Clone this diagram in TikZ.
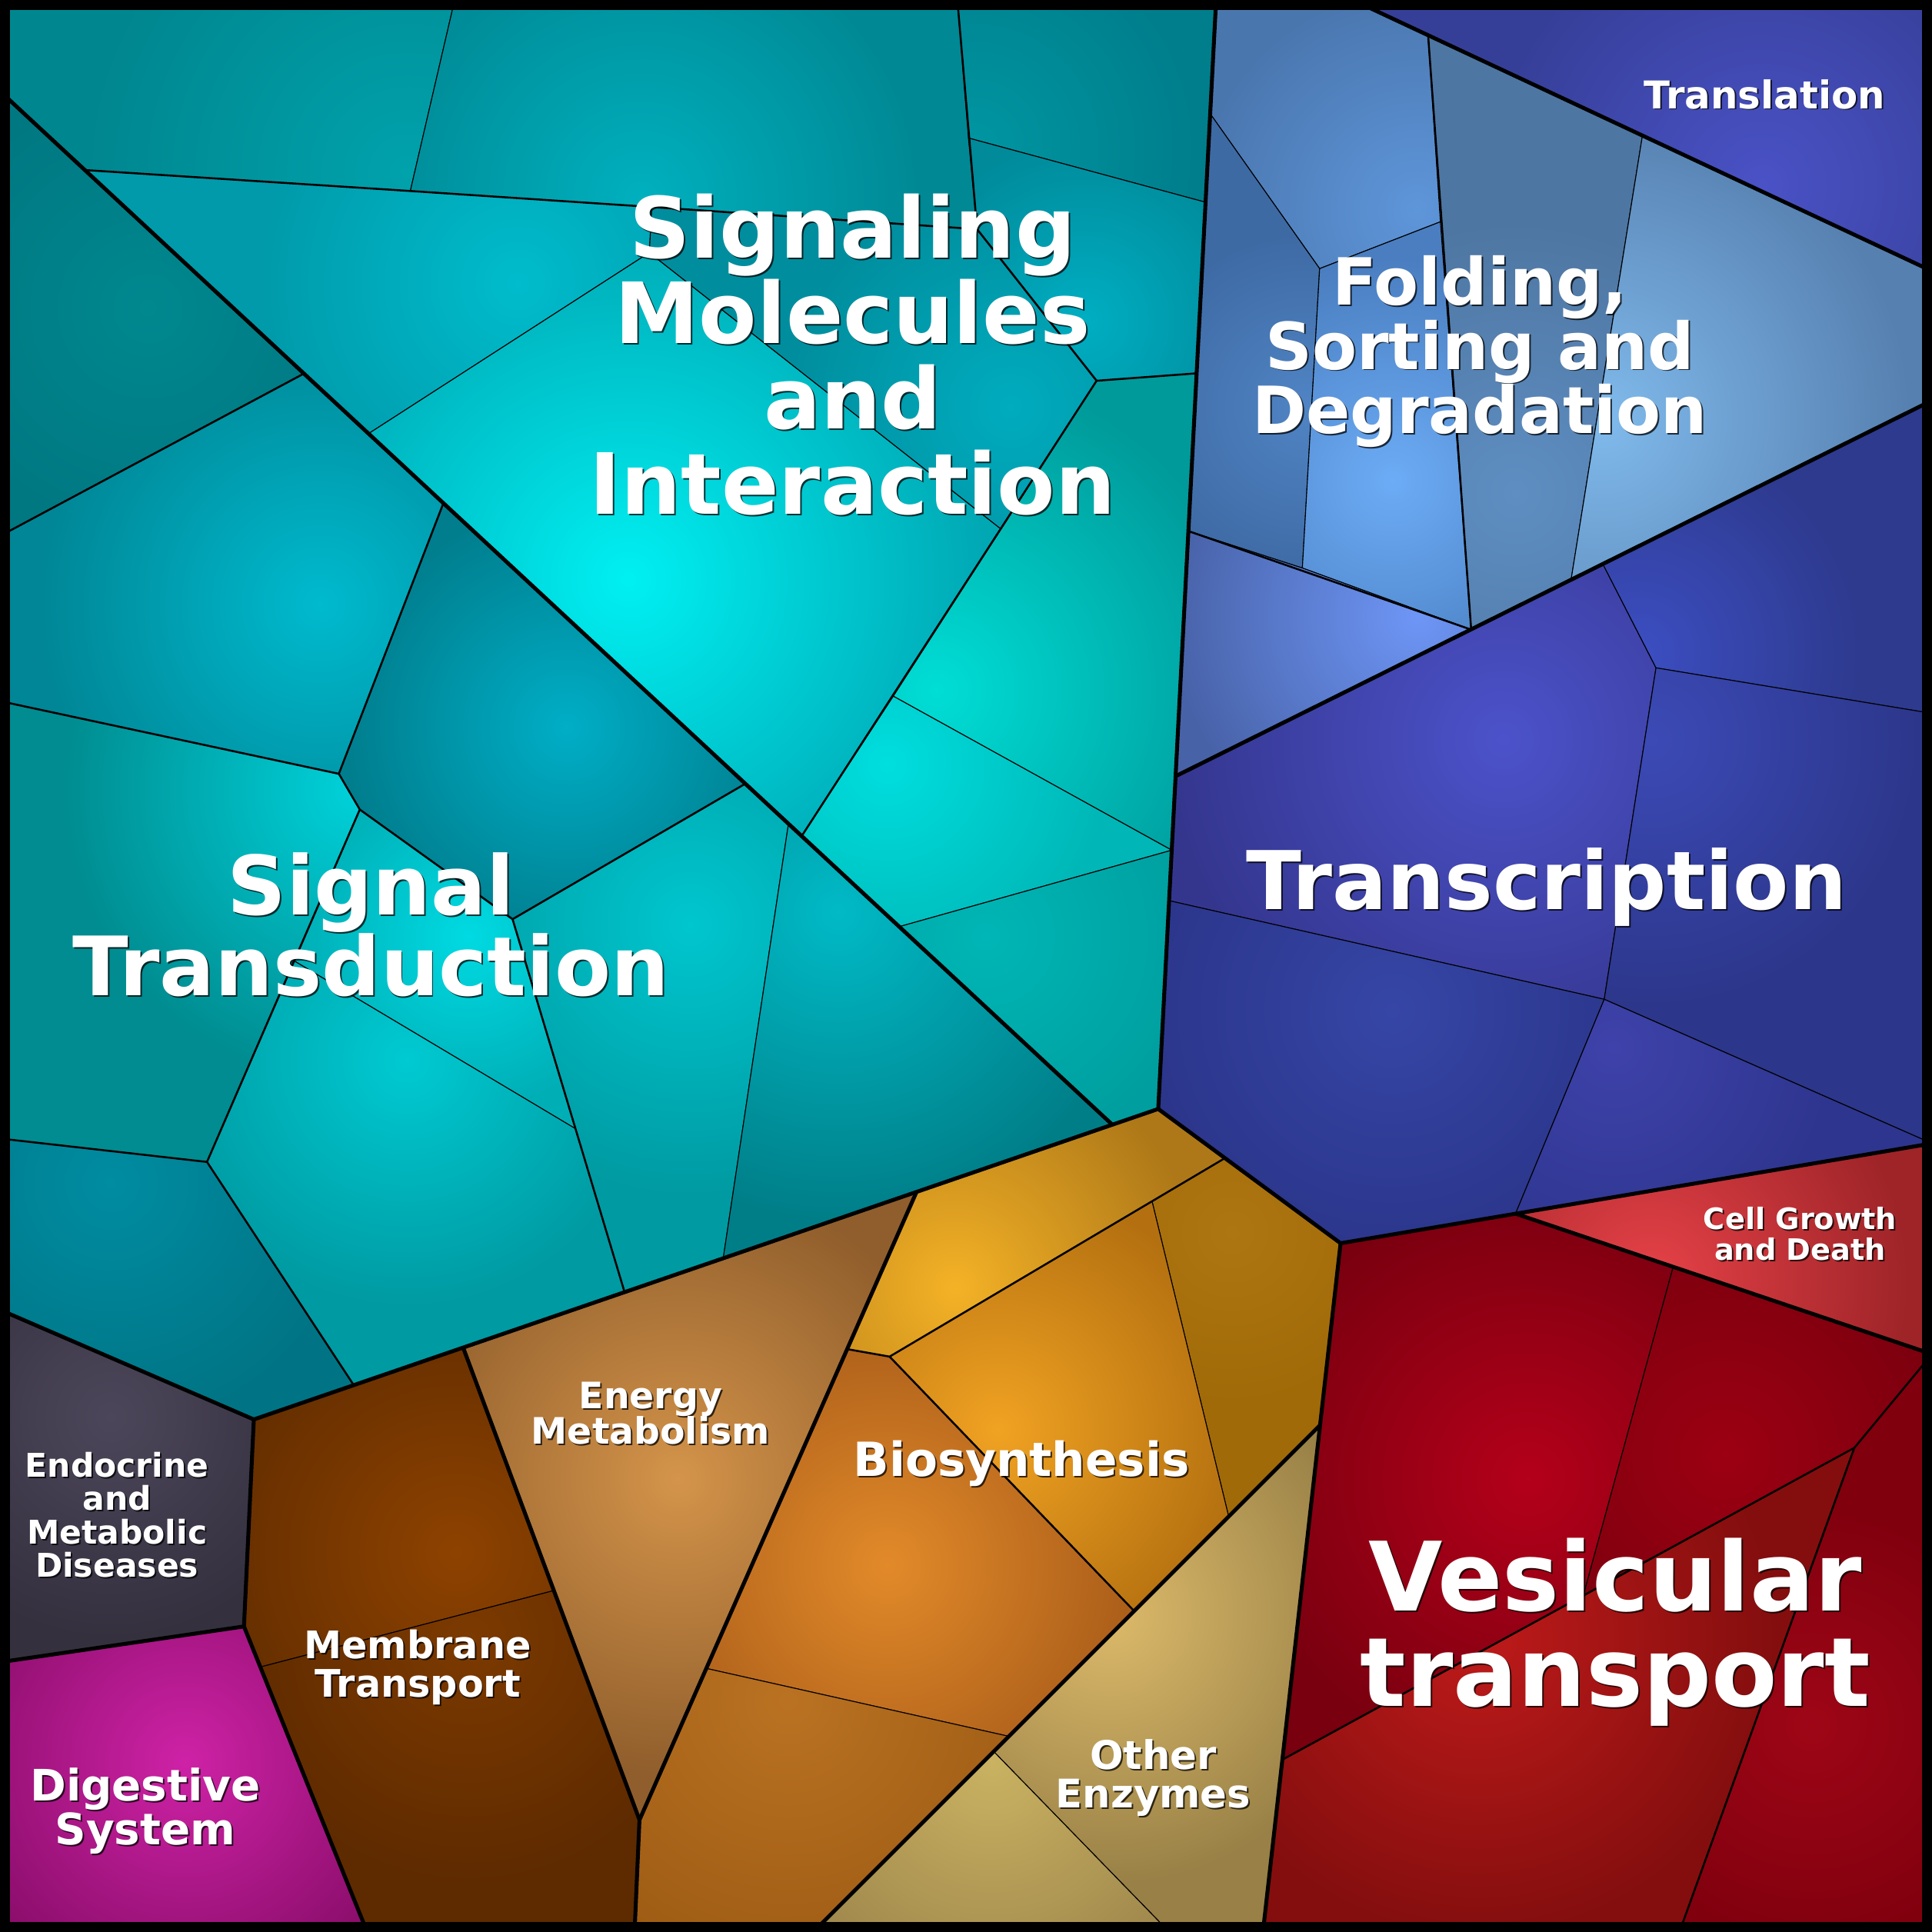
\documentclass[tikz,border=0pt]{standalone}
\usepackage{fontspec}
\setmainfont{DejaVu Sans}
\usepackage{tikz}

% one Voronoi cell: outer colour, inner colour, light centre, radius, outline
\newcommand\keggcell[5]{%
  \begin{scope}
    \definecolor{cellout}{HTML}{#1}\definecolor{cellin}{HTML}{#2}
    \clip #5 -- cycle;
    \fill[cellout] (0,0) rectangle (1568,1568);
    \shade[inner color=cellin, outer color=cellout] (#3) circle ({#4*0.01cm});
  \end{scope}
  \draw[cell edge] #5 -- cycle;}

% white label with a small dark shadow (anchored at the last baseline)
\newcommand\keggtext[5]{%
  \node[label shadow, font=\fontsize{#3}{#4}\selectfont\bfseries] (#1-shadow) at ([shift={(0.35pt,-0.35pt)}]#2) {#5};
  \node[label text, font=\fontsize{#3}{#4}\selectfont\bfseries] (#1) at (#2) {#5};}

\begin{document}
\lineskiplimit=-5pt
\begin{tikzpicture}[x=0.01cm, y=-0.01cm,
  cell edge/.style={line width=0.2pt},
  group edge/.style={line width=0.45pt},
  region edge/.style={line width=0.9pt, line join=round},
  label text/.style={text=white, align=center, anchor=base, inner sep=0pt},
  label shadow/.style={text=black, opacity=0.75, align=center, anchor=base, inner sep=0pt}]

\useasboundingbox (0,0) rectangle (1568,1568);

% Signaling Molecules and Interaction
\keggcell{00868F}{00A2AC}{330,140}{260}{(0,0) -- (369,0) -- (333,155) -- (69,138) -- (0,74)}
\keggcell{008894}{00B0BE}{520,160}{230}{(369,0) -- (777,0) -- (793,186) -- (529,168) -- (333,155)}
\keggcell{007E8C}{0096A2}{790,120}{180}{(777,0) -- (987,0) -- (978,164) -- (786,112)}
\keggcell{008A9A}{00AEC2}{880,260}{150}{(786,112) -- (978,164) -- (971,303) -- (890,309) -- (793,186)}
\keggcell{009AAA}{00BCCC}{420,230}{210}{(69,138) -- (333,155) -- (529,168) -- (527,205) -- (299,352)}
\keggcell{00A8B4}{00F0F2}{510,470}{290}{(299,352) -- (527,205) -- (812,429) -- (651,678)}
\keggcell{008E9E}{00ACBE}{820,330}{180}{(527,205) -- (529,168) -- (793,186) -- (890,309) -- (812,429)}
\keggcell{009A9A}{00DED6}{760,560}{260}{(890,309) -- (971,303) -- (951,690) -- (725,565)}
\keggcell{00B6B6}{00DEDE}{720,620}{180}{(725,565) -- (951,690) -- (730,752) -- (651,678)}
\keggcell{009E9E}{00B6B6}{800,760}{180}{(730,752) -- (951,690) -- (940,900) -- (903,913)}

% Signal Transduction
\keggcell{007882}{00888F}{120,250}{180}{(0,74) -- (247,303) -- (0,435)}
\keggcell{008696}{00BACE}{260,490}{230}{(0,435) -- (247,303) -- (360,408) -- (275,628) -- (0,569)}
\keggcell{007E8E}{00AEC6}{460,590}{180}{(360,408) -- (605,636) -- (416,746) -- (292,657) -- (275,628)}
\keggcell{008C90}{00D2DA}{290,640}{240}{(0,569) -- (275,628) -- (292,657) -- (168,943) -- (0,924)}
\keggcell{00AEB6}{00DAE2}{380,760}{140}{(292,657) -- (416,746) -- (467,916) -- (239,780)}
\keggcell{009AA2}{00CAD2}{330,860}{200}{(239,780) -- (467,916) -- (507,1049) -- (287,1124) -- (168,943)}
\keggcell{009AA2}{00C6CE}{560,750}{220}{(416,746) -- (605,636) -- (640,668) -- (587,1021) -- (507,1049)}
\keggcell{007E88}{00BAC6}{680,740}{250}{(640,668) -- (903,913) -- (587,1021)}
\keggcell{007484}{008CA2}{90,960}{200}{(0,924) -- (168,943) -- (287,1124) -- (206,1152) -- (0,1063)}

% Folding, Sorting and Degradation / Translation
\keggcell{4A76AE}{5E96DA}{1150,170}{180}{(987,0) -- (1098,0) -- (1159,28) -- (1169,180) -- (1071,218) -- (982,92)}
\keggcell{3E6AA4}{5084C4}{1060,330}{140}{(982,92) -- (1071,218) -- (1057,461) -- (964.5,431)}
\keggcell{4A7EC0}{6CACF6}{1130,390}{180}{(1071,218) -- (1169,180) -- (1194,511) -- (1057,461)}
\keggcell{4E76A2}{5E8EC2}{1230,400}{220}{(1159,28) -- (1333,110) -- (1275,471) -- (1194,511)}
\keggcell{5680B0}{80BAEC}{1300,340}{250}{(1333,110) -- (1568,220) -- (1568,325) -- (1275,471)}
\keggcell{4862A8}{6E96F6}{1150,500}{200}{(964.5,431) -- (1057,461) -- (1194,511) -- (954,630)}
\keggcell{363F98}{4A52C6}{1430,150}{220}{(1098,0) -- (1568,0) -- (1568,220)}

% Transcription
\keggcell{34368E}{4C52CA}{1220,600}{270}{(954,630) -- (1194,511) -- (1301,458) -- (1344,542) -- (1302,811) -- (949,731)}
\keggcell{2E3A8E}{3C4EC2}{1330,530}{180}{(1301,458) -- (1568,325) -- (1568,579) -- (1344,542)}
\keggcell{2C368A}{3C4AB6}{1340,600}{220}{(1344,542) -- (1568,579) -- (1568,928) -- (1302,811)}
\keggcell{2A3488}{3646A6}{1130,820}{220}{(949,731) -- (1302,811) -- (1230,985) -- (1088,1009) -- (940,900)}
\keggcell{2E358E}{3E42AA}{1310,850}{180}{(1302,811) -- (1568,928) -- (1230,985)}

% Cell Growth and Death / Vesicular transport
\keggcell{9E2428}{E64248}{1340,1040}{210}{(1230,985) -- (1568,928) -- (1568,1099)}
\keggcell{78000F}{B4001A}{1240,1200}{240}{(1088,1009) -- (1230,985) -- (1358,1028) -- (1285,1295) -- (1041,1428)}
\keggcell{7C000E}{9C0012}{1400,1180}{180}{(1358,1028) -- (1568,1099) -- (1505,1175) -- (1285,1295)}
\keggcell{840E0E}{BE1A1A}{1200,1330}{240}{(1041,1428) -- (1285,1295) -- (1505,1175) -- (1363,1568) -- (1025,1568)}
\keggcell{80000E}{9E0616}{1470,1400}{180}{(1505,1175) -- (1568,1099) -- (1568,1568) -- (1363,1568)}

% Biosynthesis / Other Enzymes
\keggcell{AE7818}{F4B226}{775,1045}{200}{(744,967) -- (940,900) -- (994,940) -- (722,1101) -- (688,1095)}
\keggcell{A06A08}{AE7612}{1000,1000}{140}{(994,940) -- (1088,1009) -- (1071,1157) -- (997,1230) -- (935,975)}
\keggcell{B47010}{F0A222}{810,1160}{200}{(722,1101) -- (935,975) -- (997,1230) -- (920,1307)}
\keggcell{A65A18}{E28A2A}{720,1270}{220}{(688,1095) -- (722,1101) -- (920,1307) -- (818,1409) -- (573,1354)}
\keggcell{9E5C14}{BA7222}{640,1380}{220}{(573,1354) -- (818,1409) -- (660,1568) -- (515,1568) -- (519,1477)}
\keggcell{988046}{DCBA6A}{900,1310}{220}{(1071,1157) -- (1025,1568) -- (949,1568) -- (806,1421)}
\keggcell{A28A4E}{CAB262}{805,1430}{180}{(806,1421) -- (949,1568) -- (660,1568)}

% Energy Metabolism / Membrane Transport / Endocrine / Digestive
\keggcell{905E2C}{D4944A}{550,1200}{240}{(376,1094) -- (744,967) -- (519,1477)}
\keggcell{642E00}{8E4200}{370,1260}{200}{(206,1152) -- (376,1094) -- (449,1291) -- (211,1353) -- (198,1320)}
\keggcell{5E2A00}{7C3A00}{380,1330}{200}{(211,1353) -- (449,1291) -- (519,1477) -- (515,1568) -- (298,1568)}
\keggcell{34303E}{4C465A}{90,1150}{180}{(0,1063) -- (206,1152) -- (198,1320) -- (0,1349)}
\keggcell{8C0E6C}{CE22A6}{150,1430}{190}{(0,1349) -- (198,1320) -- (298,1568) -- (0,1568)}

% second level edges
\draw[group edge] (69,138) -- (333,155) -- (529,168) -- (793,186) -- (890,309) -- (651,678);
\draw[group edge] (890,309) -- (971,303);
\draw[group edge] (777,0) -- (793,186);
\draw[group edge] (0,435) -- (247,303);
\draw[group edge] (360,408) -- (275,628) -- (292,657) -- (416,746) -- (605,636);
\draw[group edge] (0,569) -- (275,628);
\draw[group edge] (292,657) -- (168,943) -- (287,1124);
\draw[group edge] (0,924) -- (168,943);
\draw[group edge] (416,746) -- (507,1049);
\draw[group edge] (1159,28) -- (1194,511);
\draw[group edge] (964.5,431) -- (1194,511);
\draw[group edge] (1041,1428) -- (1505,1175) -- (1568,1099);
\draw[group edge] (1505,1175) -- (1363,1568);
\draw[group edge] (688,1095) -- (722,1101) -- (994,940);
\draw[group edge] (722,1101) -- (920,1307);

% top level edges
\draw[region edge] (0,74) -- (903,913);
\draw[region edge] (987,0) -- (940,900) -- (206,1152);
\draw[region edge] (0,1063) -- (206,1152) -- (198,1320) -- (298,1568);
\draw[region edge] (0,1349) -- (198,1320);
\draw[region edge] (376,1094) -- (519,1477) -- (515,1568);
\draw[region edge] (519,1477) -- (744,967);
\draw[region edge] (940,900) -- (1088,1009) -- (1025,1568);
\draw[region edge] (1071,1157) -- (660,1568);
\draw[region edge] (1098,0) -- (1568,220);
\draw[region edge] (954,630) -- (1568,325);
\draw[region edge] (1088,1009) -- (1568,928);
\draw[region edge] (1230,985) -- (1568,1099);
\draw[line width=2.28pt] (4,4) rectangle (1564,1564);

% labels
\keggtext{sigmol}{692,417}{19.5pt}{19.7pt}{Signaling\\Molecules\\and\\Interaction}
\keggtext{sigtrans}{301,808}{18.9pt}{18.6pt}{Signal\\Transduction}
\keggtext{transcr}{1255,738}{18.7pt}{18.7pt}{Transcription}
\keggtext{folding}{1201,352}{15pt}{14.9pt}{Folding,\\Sorting and\\Degradation}
\keggtext{transl}{1432,88}{8.85pt}{8.85pt}{Translation}
\keggtext{cellgrowth}{1461,1023}{6.8pt}{7.1pt}{Cell Growth\\and Death}
\keggtext{vesicular}{1311,1385}{22.1pt}{22pt}{Vesicular\\transport}
\keggtext{endocrine}{95,1280}{7.55pt}{7.7pt}{Endocrine\\and\\Metabolic\\Diseases}
\keggtext{energy}{528,1172}{8.4pt}{8.25pt}{Energy\\Metabolism}
\keggtext{membrane}{339,1377}{8.75pt}{8.76pt}{Membrane\\Transport}
\keggtext{digestive}{118,1497}{10pt}{10pt}{Digestive\\System}
\keggtext{biosynth}{829,1198}{10.85pt}{10.85pt}{Biosynthesis}
\keggtext{enzymes}{936,1467}{9.1pt}{8.8pt}{Other\\Enzymes}
\end{tikzpicture}
\end{document}
